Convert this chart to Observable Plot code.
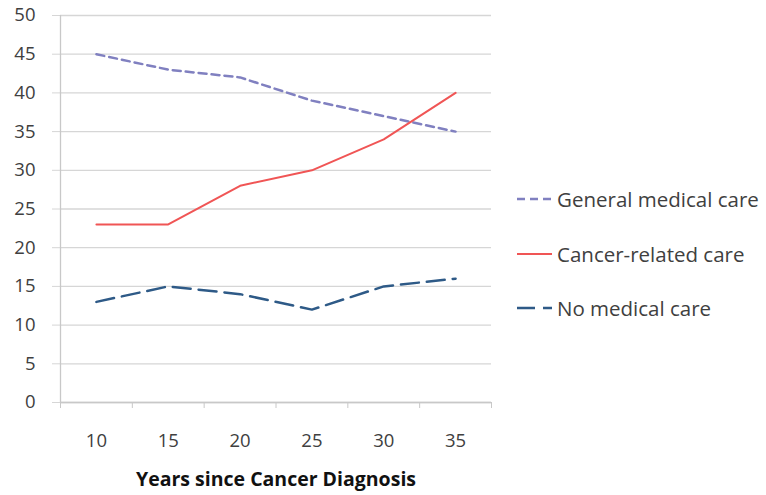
<!DOCTYPE html>
<html>
<head>
<meta charset="utf-8">
<script src="https://cdn.jsdelivr.net/npm/d3@7"></script>
<script src="https://cdn.jsdelivr.net/npm/@observablehq/plot@0.6"></script>
<style>
  body { margin: 0; background: #fff; }
  #wrap { position: relative; width: 766px; height: 495px; font-family: "Open Sans", sans-serif; }
  #legend { position: absolute; left: 517px; top: 0; }
  .item { position: absolute; left: 0; display: flex; align-items: center; white-space: nowrap; font-size: 20.5px; color: #404040; transform: translateY(-50%); }
  .item svg { margin-right: 5px; }
</style>
</head>
<body>
<div id="wrap"><div id="legend"></div></div>
<script>
const years = [10, 15, 20, 25, 30, 35];
const generalCare = [45, 43, 42, 39, 37, 35];
const cancerCare = [23, 23, 28, 30, 34, 40];
const noCare = [13, 15, 14, 12, 15, 16];
const yTicks = [0, 5, 10, 15, 20, 25, 30, 35, 40, 45, 50];
const xTitle = "Years since Cancer Diagnosis";

const seriesDefs = [
  {name: "General medical care", values: generalCare, color: "#8080c0", dash: "8,5", width: 2.5},
  {name: "Cancer-related care", values: cancerCare, color: "#f05555", dash: null, width: 2},
  {name: "No medical care", values: noCare, color: "#2e5a87", dash: "18,8", width: 2.5}
];

const boundaries = years.map(v => v - 2.5).concat([years[years.length - 1] + 2.5]);

const lineMarks = seriesDefs.map(s =>
  Plot.line(years.map((x, i) => ({x, y: s.values[i]})), {
    x: "x", y: "y", stroke: s.color, strokeWidth: s.width,
    strokeDasharray: s.dash || undefined, curve: "linear"
  })
);

const chart = Plot.plot({
  width: 766,
  height: 495,
  marginLeft: 60,
  marginRight: 275,
  marginTop: 15,
  marginBottom: 93,
  style: {fontFamily: "Open Sans, sans-serif", fontSize: "18px", color: "#404040", background: "#fff"},
  x: {type: "linear", domain: [years[0] - 2.5, years[years.length - 1] + 2.5]},
  y: {domain: [0, 50]},
  marks: [
    Plot.ruleY(yTicks, {y: d => d, x1: years[0] - 2.5, x2: years[years.length - 1] + 2.5, stroke: "#d6d6d6", strokeWidth: 1.3}),
    Plot.axisY({ticks: yTicks, tickSize: 8, tickPadding: 17, stroke: "#d6d6d6", label: null, fill: "#404040", fontSize: 18.5}),
    Plot.ruleX([years[0] - 2.5], {y1: 0, y2: 50, stroke: "#c8c8c8", strokeWidth: 1.3}),
    Plot.ruleY([0], {stroke: "#c8c8c8", strokeWidth: 1.3}),
    Plot.axisX({ticks: boundaries, tickFormat: () => "", tickSize: 6, stroke: "#c8c8c8", label: null}),
    Plot.axisX({ticks: years, tickSize: 0, tickPadding: 31, label: null, fill: "#404040", fontSize: 18.5}),
    Plot.text([xTitle], {frameAnchor: "bottom", dy: 83, fontWeight: "bold", fontSize: 19.5, fill: "#111", text: d => d}),
    ...lineMarks
  ]
});
document.getElementById("wrap").prepend(chart);
chart.style.position = "absolute";
chart.style.left = "0";
chart.style.top = "0";

const legend = document.getElementById("legend");
const rowsY = [199, 254, 308];
seriesDefs.forEach((s, i) => {
  const div = document.createElement("div");
  div.className = "item";
  div.style.top = rowsY[i] + "px";
  div.innerHTML = `<svg width="35" height="6"><line x1="0" y1="3" x2="35" y2="3" stroke="${s.color}" stroke-width="${s.width}" ${s.dash ? `stroke-dasharray="${s.dash}"` : ""}/></svg><span>${s.name}</span>`;
  legend.appendChild(div);
});
</script>
</body>
</html>
